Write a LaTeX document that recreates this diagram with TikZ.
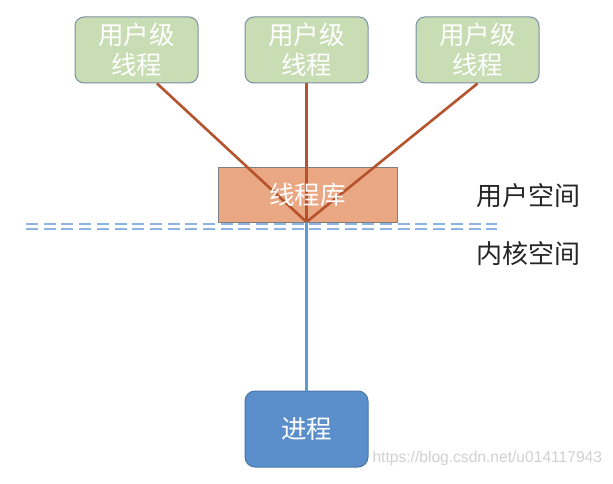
\documentclass[tikz,border=0pt]{standalone}
\usepackage{fontspec}
\newfontfamily\cjk{Noto Sans CJK SC}
\definecolor{gfill}{HTML}{C8DDB4}
\definecolor{gdraw}{HTML}{7A8FA3}
\definecolor{ofill}{HTML}{EAA783}
\definecolor{odraw}{HTML}{7F7F7F}
\definecolor{bfill}{HTML}{5B8FCB}
\definecolor{bdraw}{HTML}{4A76A8}
\definecolor{brline}{HTML}{B5532C}
\definecolor{bline}{HTML}{5B9BD5}
\definecolor{dline}{HTML}{8DB3E2}
\tikzset{
  ubox/.style={draw=gdraw, line width=1pt, fill=gfill, rounded corners=9pt,
    minimum width=123pt, minimum height=66pt, inner sep=0pt,
    align=center, text=white, font=\cjk\fontsize{25.5}{30}\selectfont},
  libbox/.style={draw=odraw, line width=0.8pt, fill=ofill,
    minimum width=179pt, minimum height=55pt, inner sep=0pt},
  pbox/.style={draw=bdraw, line width=1pt, fill=bfill, rounded corners=10pt,
    minimum width=123pt, minimum height=76pt, inner sep=0pt,
    text=white, font=\cjk\fontsize{25.5}{30}\selectfont},
  lab/.style={text=black!85, font=\cjk\fontsize{26}{30}\selectfont},
  tline/.style={draw=brline, line width=2.6pt},
  kline/.style={draw=bline, line width=2.6pt},
  sep/.style={draw=dline, line width=2.4pt, dash pattern=on 12pt off 5.7pt},
}
\begin{document}
\begin{tikzpicture}[x=1pt,y=-1pt]
\useasboundingbox[fill=white] (0,0) rectangle (613,484);
% separator
\draw[sep] (26,224) -- (497,224);
\draw[sep] (26,228.8) -- (497,228.8);
% library
\node[libbox] (lib) at (307.5,194.5) {};
\coordinate (hub) at (306.5,222);
% user threads
\node[ubox] (u1) at (136.5,50) {用户级\\线程};
\node[ubox] (u2) at (306.5,50) {用户级\\线程};
\node[ubox] (u3) at (477.5,50) {用户级\\线程};
\draw[tline] ([xshift=20.5pt]u1.south) -- (hub);
\draw[tline] (u2.south) -- (hub);
\draw[tline] (u3.south) -- (hub);
\node[text=white, font=\cjk\fontsize{25.5}{30}\selectfont] (libt) at (lib.center) {线程库};
% process
\node[pbox] (p) at (306.5,429) {进程};
\draw[kline] (hub) -- (p.north);
% labels
\node[lab] (us) at (528,196) {用户空间};
\node[lab] (ks) at (528,254) {内核空间};
\node[text=black!18, font=\fontspec{Liberation Sans}\fontsize{15.6}{17}\selectfont, anchor=west] (wm) at (369,458) {https://blog.csdn.net/u014117943};
\end{tikzpicture}
\end{document}
